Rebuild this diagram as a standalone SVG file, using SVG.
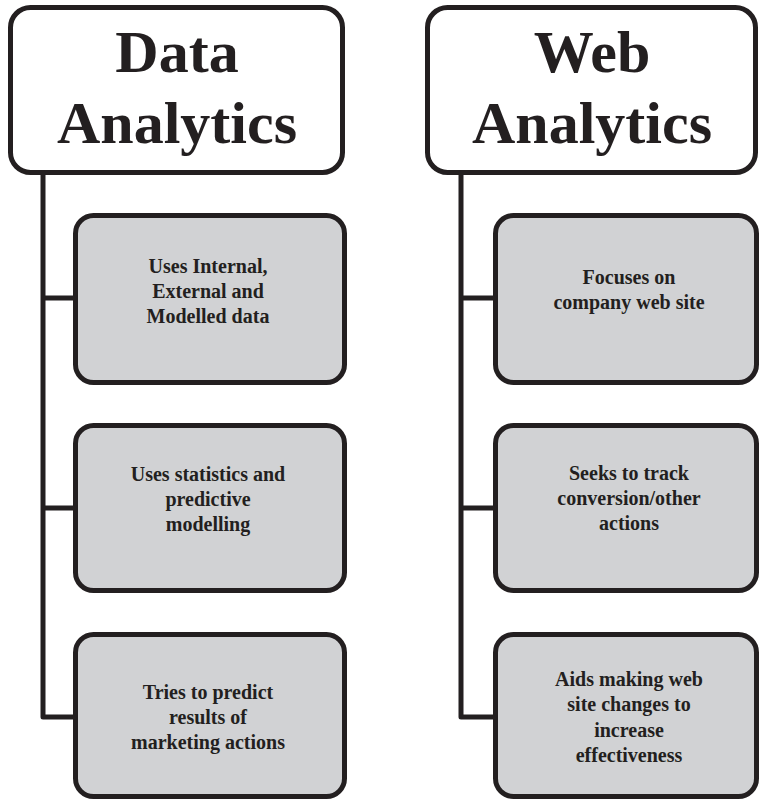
<svg xmlns="http://www.w3.org/2000/svg" width="760" height="801" viewBox="0 0 760 801">
<style>
.hdr{fill:#ffffff;stroke:#231f20;stroke-width:5}
.box{fill:#d1d2d4;stroke:#231f20;stroke-width:5}
.conn{fill:none;stroke:#231f20;stroke-width:5;stroke-linejoin:round}
.ht{font-family:"Liberation Serif",serif;font-weight:bold;font-size:60px;fill:#231f20;text-anchor:middle}
.bt{font-family:"Liberation Serif",serif;font-weight:bold;font-size:20px;fill:#231f20;text-anchor:middle}
</style>
<rect width="760" height="801" fill="#ffffff"/>
<g id="connectors">
<path class="conn" d="M43 172 V717 H75 M43 298 H75 M43 508 H75"/>
<path class="conn" d="M461 172 V717 H495 M461 298 H495 M461 508 H495"/>
</g>
<g id="data-analytics">
<rect class="hdr" x="10.5" y="7.5" width="332" height="165" rx="20"/>
<text class="ht" x="177" y="72">Data</text>
<text class="ht" x="177" y="143">Analytics</text>
</g>
<g id="web-analytics">
<rect class="hdr" x="427.5" y="7.5" width="328" height="165" rx="20"/>
<text class="ht" x="592" y="72">Web</text>
<text class="ht" x="592" y="143">Analytics</text>
</g>
<g id="da-1">
<rect class="box" x="75.5" y="215.5" width="269" height="167" rx="18"/>
<text class="bt" x="208" y="273">Uses Internal,</text>
<text class="bt" x="208" y="298">External and</text>
<text class="bt" x="208" y="323">Modelled data</text>
</g>
<g id="da-2">
<rect class="box" x="75.5" y="425.5" width="269" height="165" rx="18"/>
<text class="bt" x="208" y="481">Uses statistics and</text>
<text class="bt" x="208" y="506">predictive</text>
<text class="bt" x="208" y="531">modelling</text>
</g>
<g id="da-3">
<rect class="box" x="75.5" y="634.5" width="269" height="162" rx="18"/>
<text class="bt" x="208" y="699">Tries to predict</text>
<text class="bt" x="208" y="724">results of</text>
<text class="bt" x="208" y="749">marketing actions</text>
</g>
<g id="wa-1">
<rect class="box" x="495.5" y="215.5" width="261" height="167" rx="18"/>
<text class="bt" x="629" y="284">Focuses on</text>
<text class="bt" x="629" y="309">company web site</text>
</g>
<g id="wa-2">
<rect class="box" x="495.5" y="425.5" width="261" height="165" rx="18"/>
<text class="bt" x="629" y="480">Seeks to track</text>
<text class="bt" x="629" y="505">conversion/other</text>
<text class="bt" x="629" y="530">actions</text>
</g>
<g id="wa-3">
<rect class="box" x="495.5" y="634.5" width="261" height="162" rx="18"/>
<text class="bt" x="629" y="686">Aids making web</text>
<text class="bt" x="629" y="711">site changes to</text>
<text class="bt" x="629" y="737">increase</text>
<text class="bt" x="629" y="762">effectiveness</text>
</g>
</svg>
